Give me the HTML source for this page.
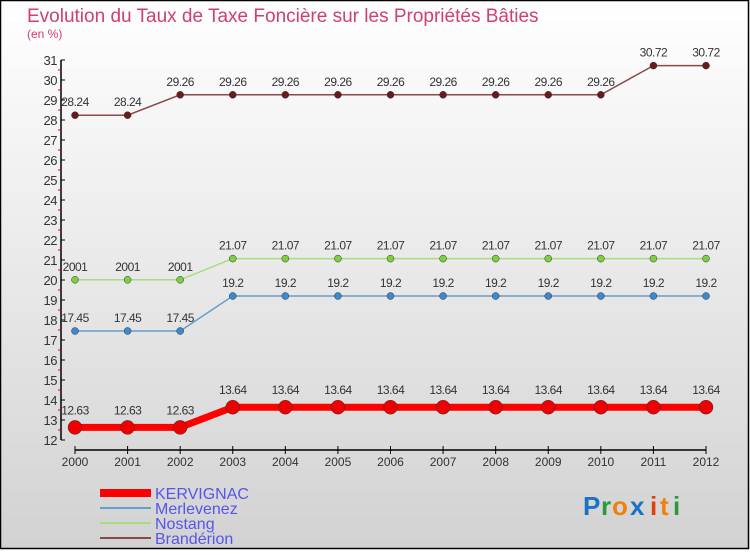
<!DOCTYPE html>
<html><head><meta charset="utf-8"><style>
body{margin:0;}
#c{width:750px;height:550px;position:relative;font-family:"Liberation Sans",sans-serif;}
</style></head><body>
<div id="c">
<svg id="s" width="750" height="550" xmlns="http://www.w3.org/2000/svg">
<defs><linearGradient id="bg" x1="0" y1="0" x2="0" y2="1"><stop offset="0" stop-color="#ffffff"/><stop offset="1" stop-color="#d2d2d2"/></linearGradient></defs>
<rect x="0.5" y="0.5" width="748" height="548" fill="url(#bg)" stroke="#000" stroke-width="1.5"/>
<text x="27" y="22" font-size="19" fill="#d0406a">Evolution du Taux de Taxe Foncière sur les Propriétés Bâties</text>
<text x="27" y="38" font-size="12" fill="#d0406a">(en %)</text>
<g id="axes"></g><g id="series"></g><g id="legend"></g>
<g font-size="26" font-weight="bold">
<text x="583" y="515" fill="#1a72c8">P</text><text x="601" y="515" fill="#2a9a3a">r</text><text x="612" y="515" fill="#f08010">o</text><text x="630" y="515" fill="#1a72c8">x</text><text x="650" y="515" fill="#e04010">i</text><text x="660" y="515" fill="#f08010">t</text><text x="673" y="515" fill="#2a9a3a">i</text>
</g>
</svg>
</div>
<script>
const years=[2000,2001,2002,2003,2004,2005,2006,2007,2008,2009,2010,2011,2012];
const kervignac=[12.63,12.63,12.63,13.64,13.64,13.64,13.64,13.64,13.64,13.64,13.64,13.64,13.64];
const merlevenez=[17.45,17.45,17.45,19.2,19.2,19.2,19.2,19.2,19.2,19.2,19.2,19.2,19.2];
const nostang=[20.01,20.01,20.01,21.07,21.07,21.07,21.07,21.07,21.07,21.07,21.07,21.07,21.07];
const branderion=[28.24,28.24,29.26,29.26,29.26,29.26,29.26,29.26,29.26,29.26,29.26,30.72,30.72];
const yTicks=[12,13,14,15,16,17,18,19,20,21,22,23,24,25,26,27,28,29,30,31];
const seriesNames=["KERVIGNAC","Merlevenez","Nostang","Brandérion"];
const NS="http://www.w3.org/2000/svg";
const X=i=>75+i*(706-75)/(years.length-1);
const Y=v=>440-(v-12)*20;
function mk(tag,attrs,parent,txt){const e=document.createElementNS(NS,tag);for(const k in attrs)e.setAttribute(k,attrs[k]);if(txt!==undefined)e.textContent=txt;parent.appendChild(e);return e;}
const ax=document.getElementById('axes');
let yl=mk('line',{x1:61,y1:60,x2:61,y2:440,stroke:'#000','stroke-width':1.5},ax);


yTicks.forEach(t=>{
 mk('line',{x1:61,y1:Y(t),x2:65,y2:Y(t),stroke:'#000'},ax);
 if(t<31) mk('line',{x1:58,y1:Y(t+0.5),x2:61,y2:Y(t+0.5),stroke:'#e00'},ax);
 let tx=mk('text',{x:57,y:Y(t)+5,'font-size':13,fill:'#333','text-anchor':'end','letter-spacing':'-0.5'},ax,t);
 
 
});
let xl=mk('line',{x1:75,y1:450,x2:706,y2:450,stroke:'#000','stroke-width':1.5},ax);


years.forEach((y,i)=>{
 mk('line',{x1:X(i),y1:446,x2:X(i),y2:454,stroke:'#000'},ax);
 let tx=mk('text',{x:X(i),y:466,'font-size':12,fill:'#333','text-anchor':'middle'},ax,y);
 
 
});
const sg=document.getElementById('series');
const defs=[[kervignac,'#f00',7,7,'#e00'],[merlevenez,'#6a9ccc',1.5,3.5,'#3b8ad0'],[nostang,'#a8dc80',1.5,3.5,'#7cd040'],[branderion,'#8a4a4a',1.5,3.5,'#6a1a1a']];
defs.forEach((d,k)=>{
 const vals=d[0];
 let pl=mk('polyline',{points:vals.map((v,i)=>X(i)+','+Y(v)).join(' '),fill:'none',stroke:d[1],'stroke-width':d[2]},sg);
 
 
 vals.forEach((v,i)=>{
  let c=mk('circle',{cx:X(i),cy:Y(v),r:d[3],fill:d[4],stroke:'#333','stroke-width':0.5},sg);
  
  
  let t=mk('text',{x:X(i),y:Y(v)-(k==0?13:9),'font-size':12,fill:'#333','text-anchor':'middle','letter-spacing':'-0.5'},sg,String(v).replace('20.01','2001'));
  
  
 });
});
const lg=document.getElementById('legend');
const lc=['#f00','#6a9ccc','#a8dc80','#8a4a4a'],lw=[8,2,2,2];
seriesNames.forEach((n,k)=>{
 const y=493+k*15;
 mk('line',{x1:100,y1:y,x2:151,y2:y,stroke:lc[k],'stroke-width':lw[k]},lg);
 let t=mk('text',{x:155,y:y+6,'font-size':16,fill:'#5555ee'},lg,n);
 
 
});
</script>
</body></html>
